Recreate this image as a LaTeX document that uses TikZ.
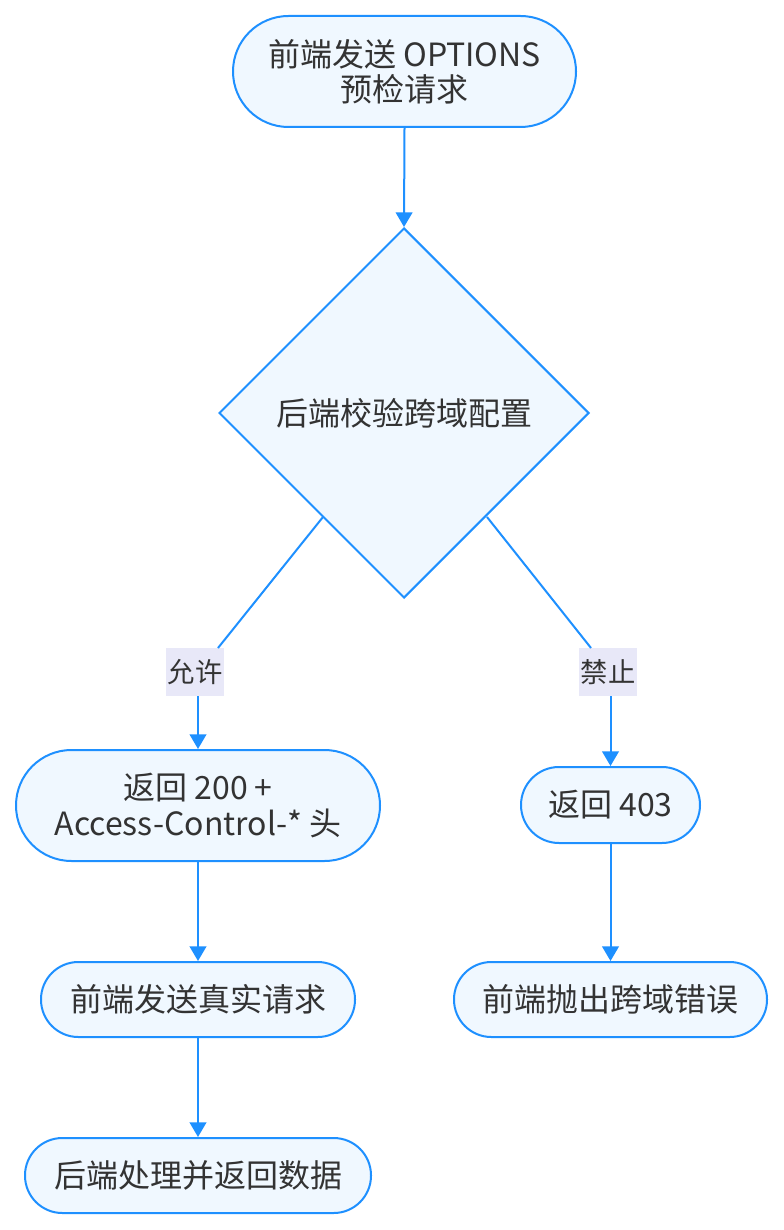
\documentclass[tikz,border=0pt]{standalone}
\usepackage{fontspec}
\setmainfont{Noto Sans CJK SC}
\usetikzlibrary{shapes.geometric,arrows.meta}
\definecolor{edgeblue}{HTML}{1E90FF}
\definecolor{nodefill}{HTML}{F0F8FF}
\definecolor{labelbg}{HTML}{E8E8F8}
\definecolor{txt}{HTML}{333333}
\begin{document}
\begin{tikzpicture}[x=0.75pt,y=-0.75pt,
  base/.style={draw=edgeblue,fill=nodefill,line width=1.5pt,text=txt,font=\fontsize{24pt}{26.5pt}\selectfont,align=center,inner sep=0pt},
  pill/.style={base,rectangle,rounded corners=#1},
  dec/.style={base,diamond,minimum width=277.5pt,minimum height=277.5pt},
  elabel/.style={fill=labelbg,text=txt,font=\fontsize{20.5pt}{22pt}\selectfont,inner sep=0pt,minimum width=43.5pt,minimum height=36pt},
  conn/.style={draw=edgeblue,line width=1.5pt},
  arr/.style={conn,-{Triangle[length=11pt,width=12.5pt]}}]
\useasboundingbox (0,0) rectangle (784,1230);
\fill[white] (0,0) rectangle (784,1230);
\node[pill=41.6pt,minimum width=257.25pt,minimum height=83.25pt] (start) at (404.5,71.5) {前端发送 OPTIONS\\预检请求};
\node[dec] (check) at (404,413) {后端校验跨域配置};
\node[pill=41.6pt,minimum width=273pt,minimum height=83.25pt] (ok) at (198,805.5) {返回 200 +\\Access-Control-* 头};
\node[pill=28.5pt,minimum width=134.25pt,minimum height=57pt] (deny) at (610.5,805) {返回 403};
\node[pill=28pt,minimum width=235.5pt,minimum height=56.25pt] (real) at (198,999.5) {前端发送真实请求};
\node[pill=28pt,minimum width=234.75pt,minimum height=56.25pt] (err) at (610.5,999.5) {前端抛出跨域错误};
\node[pill=28pt,minimum width=259.5pt,minimum height=56.25pt] (done) at (198,1175.5) {后端处理并返回数据};
\node[elabel] (lallow) at (195,672) {允许};
\node[elabel] (ldeny) at (608,672) {禁止};
\coordinate (dl) at (323,517);
\coordinate (dr) at (487,517);
\coordinate (la) at (218,648);
\coordinate (lb) at (591,648);
\draw[arr] (start.south) -- (check.north);
\draw[conn] (dl) -- (la);
\draw[arr] (lallow.south -| ok.north) -- (ok.north);
\draw[conn] (dr) -- (lb);
\draw[arr] (ldeny.south -| deny.north) -- (deny.north);
\draw[arr] (ok.south) -- (real.north);
\draw[arr] (real.south) -- (done.north);
\draw[arr] (deny.south) -- (err.north);
\end{tikzpicture}
\end{document}
